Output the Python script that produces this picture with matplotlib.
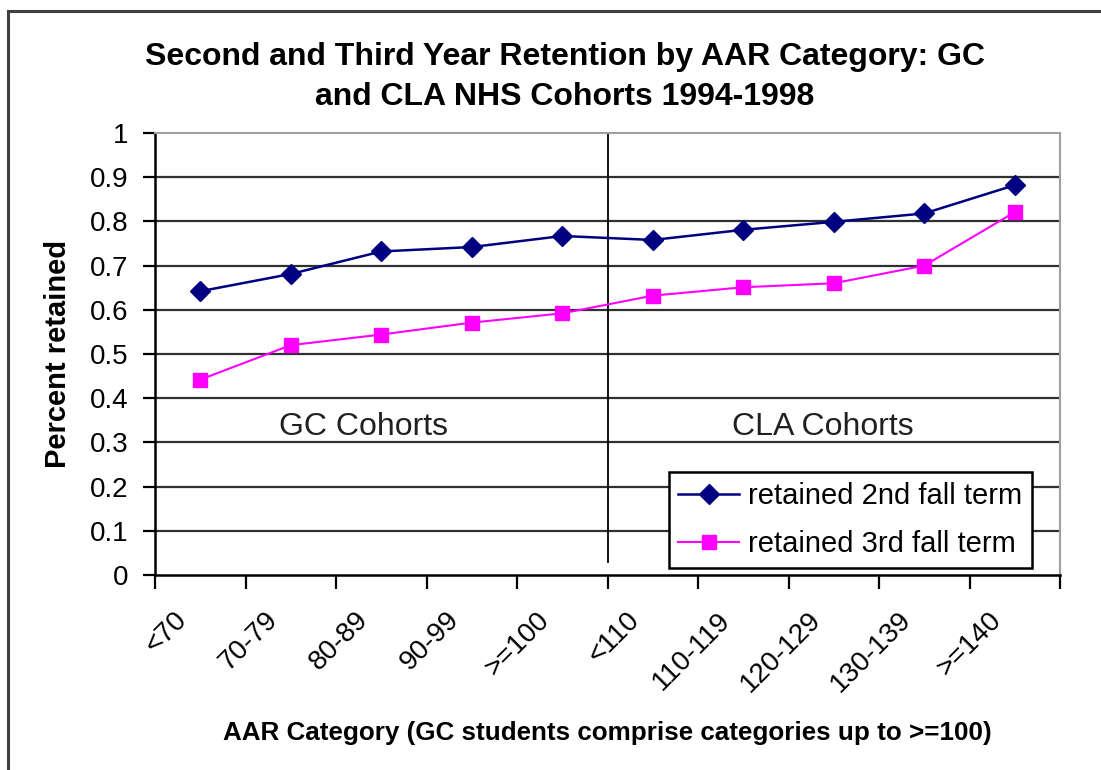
import matplotlib
matplotlib.use("Agg")
import matplotlib.pyplot as plt
import matplotlib.transforms as mtransforms
from matplotlib.lines import Line2D

# categories along the x axis (GC cohorts then CLA cohorts)
categories = ["<70", "70-79", "80-89", "90-99", ">=100",
              "<110", "110-119", "120-129", "130-139", ">=140"]

# share retained
retained_2nd = [0.642, 0.681, 0.732, 0.742, 0.767, 0.758, 0.781, 0.799, 0.818, 0.882]
retained_3rd = [0.442, 0.520, 0.544, 0.571, 0.592, 0.632, 0.651, 0.660, 0.700, 0.821]

yticks = [0, 0.1, 0.2, 0.3, 0.4, 0.5, 0.6, 0.7, 0.8, 0.9, 1]
ytick_labels = ["0", "0.1", "0.2", "0.3", "0.4", "0.5", "0.6", "0.7", "0.8", "0.9", "1"]

plt.rcParams['font.family'] = ['Liberation Sans', 'DejaVu Sans']

W, H = 1101, 770
fig = plt.figure(figsize=(W / 100, H / 100), dpi=100, facecolor="white")

# outer chart frame (only top and left edges are inside the picture)
fig.add_artist(Line2D([8 / W, 8 / W], [0, 1 - 11 / H], transform=fig.transFigure,
                      color="#404040", lw=2.2))
fig.add_artist(Line2D([8 / W, 1], [1 - 11 / H, 1 - 11 / H], transform=fig.transFigure,
                      color="#404040", lw=2.2))

left, right, top, bottom = 155, 1060, 133, 575
ax = fig.add_axes([left / W, 1 - bottom / H, (right - left) / W, (bottom - top) / H])

x = list(range(len(categories)))

ax.set_xlim(-0.5, len(categories) - 0.5)
ax.set_ylim(0, 1)

# gridlines
for v in yticks[1:-1]:
    ax.axhline(v, color="#303030", lw=1.6, zorder=1)

# separator between GC and CLA groups
ax.axvline(4.5, ymin=0.03, ymax=1.0, color="black", lw=1.3, zorder=1)

ax.plot(x, retained_2nd, color="#000080", lw=1.8, marker="D", markersize=10,
        markerfacecolor="#000080", markeredgecolor="#000080", label="retained 2nd fall term", zorder=3)
ax.plot(x, retained_3rd, color="#FF00FF", lw=1.5, marker="s", markersize=10.5,
        markerfacecolor="#FF00FF", markeredgecolor="#FF00FF", label="retained 3rd fall term", zorder=3)

ax.text(1.8, 0.335, "GC Cohorts", ha="center", va="center", fontsize=23, color="#202020")
ax.text(6.88, 0.335, "CLA Cohorts", ha="center", va="center", fontsize=23, color="#202020")

# spines
ax.spines["left"].set_color("black")
ax.spines["left"].set_linewidth(1.8)
ax.spines["bottom"].set_color("black")
ax.spines["bottom"].set_linewidth(1.8)
ax.spines["top"].set_color("#a0a0a0")
ax.spines["top"].set_linewidth(1.5)
ax.spines["right"].set_color("#a0a0a0")
ax.spines["right"].set_linewidth(1.5)

ax.set_yticks(yticks)
ax.set_yticklabels(ytick_labels, fontsize=20)
ax.tick_params(axis="y", direction="out", length=9, width=1.6, pad=10, color="black")

# ticks at category boundaries, labels at category centres
ax.set_xticks([i - 0.5 for i in range(len(categories) + 1)])
ax.set_xticklabels([])
ax.tick_params(axis="x", which="major", direction="out", length=10, width=1.6, color="black")
ax.set_xticks(x, minor=True)
ax.set_xticklabels(categories, minor=True, fontsize=20, rotation=45, ha="right",
                   rotation_mode="anchor")
ax.tick_params(axis="x", which="minor", length=0, pad=23)
shift = mtransforms.ScaledTranslation(-26 / 100, 0, fig.dpi_scale_trans)
for lab in ax.get_xticklabels(minor=True):
    lab.set_transform(lab.get_transform() + shift)

ax.set_ylabel("Percent retained", fontsize=21, fontweight="bold", labelpad=13)
ax.set_xlabel("AAR Category (GC students comprise categories up to >=100)",
              fontsize=18.7, fontweight="bold")
ax.xaxis.set_label_coords(0.5, (575 - 721) / 442)

fig.text(0.513, 1 - 57 / H, "Second and Third Year Retention by AAR Category: GC",
         ha="center", va="center", fontsize=23, fontweight="bold")
fig.text(0.513, 1 - 97 / H, "and CLA NHS Cohorts 1994-1998",
         ha="center", va="center", fontsize=23, fontweight="bold")

leg = ax.legend(loc="lower right", bbox_to_anchor=(0.969, 0.016), fontsize=21,
                frameon=True, fancybox=False, edgecolor="black", framealpha=1,
                borderaxespad=0, handlelength=2.1, handletextpad=0.3,
                labelspacing=0.7, borderpad=0.33)
leg.get_frame().set_linewidth(1.8)

fig.savefig("out.png", dpi=100, facecolor="white")
